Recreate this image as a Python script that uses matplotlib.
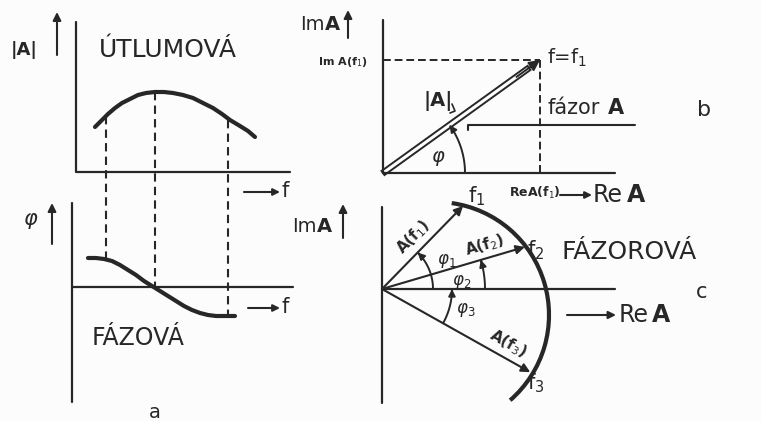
import numpy as np
import matplotlib.pyplot as plt
from matplotlib.patches import FancyArrow, FancyArrowPatch, Arc
from matplotlib.path import Path

INK = '#272727'
W, H = 761, 421

# a) amplitude (útlumová) characteristic, page units (y grows downward)
mag_x = [95, 101, 108, 115, 122, 130, 138, 146, 155, 164, 173, 183, 193, 203, 213, 222, 230, 240, 248, 255]
mag_y = [127, 121, 114, 108, 103, 99, 95, 93, 92, 92, 93, 95, 98, 103, 108, 114, 120, 126, 131, 137]
# a) phase characteristic
ph_x = [88, 96, 104, 112, 120, 128, 136, 144, 152, 160, 168, 176, 184, 192, 200, 208, 216, 235]
ph_y = [258, 258, 259, 261, 265, 270, 275, 281, 286, 291, 296, 301, 306, 310, 313, 315, 316, 316]
# frequencies f1, f2, f3 marked on both curves
f_x = [106, 155, 228]
f_top = [116, 92, 120]
f_bottom = [259, 288, 316]

# b) one phasor at f = f1
b_origin = (383, 173)
b_tip = (540, 60)

# c) phasors at f1, f2, f3 (angle in degrees, length)
c_origin = (382, 289)
c_phi = [45.7, 16.4, -29.3]
c_len = [116, 149, 170]
c_arc_r = [51, 103, 70]
c_names = ['A(f$_1$)', 'A(f$_2$)', 'A(f$_3$)']
c_name_xy = [(413, 237), (485, 245), (508, 344)]
# locus of the phasor tip
locus_c = (436, 315)
locus_r = 113
locus_span = (-49, 82)

fig = plt.figure(figsize=(W / 100, H / 100), dpi=100, facecolor='#fcfcfc')
ax = fig.add_axes([0, 0, 1, 1])
ax.set_xlim(0, W)
ax.set_ylim(H, 0)
ax.axis('off')


def line(xs, ys, lw=1.6, **kw):
    ax.plot(xs, ys, color=INK, lw=lw, solid_capstyle='round', solid_joinstyle='round', **kw)


def arrow(x0, y0, x1, y1, lw=1.5, ms=12):
    ax.annotate('', xy=(x1, y1), xytext=(x0, y0),
                arrowprops=dict(arrowstyle='-|>', color=INK, lw=lw,
                                mutation_scale=ms, shrinkA=0, shrinkB=0))


def txt(x, y, s, size=14, **kw):
    kw.setdefault('ha', 'left')
    kw.setdefault('va', 'center')
    ax.text(x, y, s, fontsize=size, color=INK, family='DejaVu Sans', **kw)


def angle_arc(origin, r, a0, a1):
    t = np.radians(np.linspace(a0, a1, 40))
    pts = np.column_stack([origin[0] + r * np.cos(t), origin[1] - r * np.sin(t)])
    ax.add_patch(FancyArrowPatch(path=Path(pts), arrowstyle='-|>',
                                 mutation_scale=10, color=INK, lw=1.4))


# ---- a) upper: amplitude ----
line([76, 76, 290], [22, 172, 172])
line(mag_x, mag_y, lw=3)
arrow(57, 55, 57, 12)
txt(11, 50, '|A|', 13, weight='bold')
txt(99, 50, 'ÚTLUMOVÁ', 18)
arrow(244, 192, 280, 192, ms=10)
txt(282, 191, 'f', 15)

# ---- a) lower: phase ----
line([72, 72], [203, 402])
line([72, 293], [287, 287])
line(ph_x, ph_y, lw=3)
arrow(52, 244, 52, 203)
txt(24, 219, 'φ', 15, style='italic')
arrow(248, 308, 280, 308, ms=10)
txt(282, 307, 'f', 15)
txt(92, 338, 'FÁZOVÁ', 17)
txt(155, 412, 'a', 14, ha='center')

for x, y0, y1 in zip(f_x, f_top, f_bottom):
    ax.plot([x, x], [y0, y1], color=INK, lw=1.5, ls=(0, (4, 2.5)))

# ---- b) single phasor ----
line([b_origin[0], b_origin[0]], [20, b_origin[1]])
line([b_origin[0], 615], [b_origin[1], b_origin[1]])
ax.plot([b_origin[0], b_tip[0]], [b_tip[1], b_tip[1]], color=INK, lw=1.4, ls=(0, (4, 2)))
ax.plot([b_tip[0], b_tip[0]], [b_tip[1], b_origin[1]], color=INK, lw=1.4, ls=(0, (4, 2)))
dx, dy = b_tip[0] - b_origin[0], b_tip[1] - b_origin[1]
ax.add_patch(FancyArrow(b_origin[0], b_origin[1], dx * 0.93, dy * 0.93,
                        width=5, head_width=0.01, head_length=0.01,
                        fc='white', ec=INK, lw=1.4))
arrow(b_origin[0] + dx * 0.85, b_origin[1] + dy * 0.85, b_tip[0], b_tip[1], lw=1.4, ms=16)
b_phi = np.degrees(np.arctan2(-dy, dx))
angle_arc(b_origin, 82, 0, b_phi)
arrow(348, 38, 348, 10)
ax.text(300, 25, 'Im', fontsize=14, color=INK, va='center', ha='left')
ax.text(325, 25, 'A', fontsize=14, color=INK, va='center', ha='left', weight='bold')
txt(318, 62, 'Im A(f$_1$)', 8, weight='bold')
txt(547, 58, 'f=f$_1$', 14)
txt(424, 101, '|A|', 14, weight='bold')
line([450, 455, 452], [113, 111, 104], lw=1.2)
txt(547, 108, 'fázor', 15)
ax.text(608, 108, 'A', fontsize=15, color=INK, va='center', weight='bold')
line([468, 468, 635], [130, 125, 125], lw=1.5)
txt(431, 156, 'φ', 14, style='italic')
txt(697, 110, 'b', 16)
txt(509, 193, 'ReA(f$_1$)', 9, weight='bold')
arrow(560, 195, 592, 195, ms=10)
txt(593, 195, 'Re', 17)
ax.text(627, 195, 'A', fontsize=17, color=INK, va='center', weight='bold')

# ---- c) locus of phasors ----
line([c_origin[0], c_origin[0]], [207, 403])
line([c_origin[0], 615], [c_origin[1], c_origin[1]])
ax.add_patch(Arc(locus_c, 2 * locus_r, 2 * locus_r, theta1=-locus_span[1],
                 theta2=-locus_span[0], color=INK, lw=3))
for phi, L in zip(c_phi, c_len):
    t = np.radians(phi)
    tip = (c_origin[0] + L * np.cos(t), c_origin[1] - L * np.sin(t))
    arrow(c_origin[0], c_origin[1], tip[0], tip[1], lw=1.5, ms=13)
for phi, r in zip(c_phi, c_arc_r):
    if phi > 0:
        angle_arc(c_origin, r, 0, phi)
    else:
        angle_arc(c_origin, r, phi, 0)

for phi, (x, y), s in zip(c_phi, c_name_xy, c_names):
    txt(x, y, s, 11, weight='bold', rotation=phi, rotation_mode='anchor', ha='center')

txt(437, 261, 'φ$_1$', 12, style='italic')
txt(452, 282, 'φ$_2$', 12, style='italic')
txt(456, 310, 'φ$_3$', 12, style='italic')
txt(468, 196, 'f$_1$', 15)
txt(527, 250, 'f$_2$', 15)
txt(527, 383, 'f$_3$', 15)
txt(562, 252, 'FÁZOROVÁ', 18)
txt(696, 292, 'c', 15)
arrow(343, 238, 343, 204)
ax.text(292, 227, 'Im', fontsize=14, color=INK, va='center')
ax.text(317, 227, 'A', fontsize=14, color=INK, va='center', weight='bold')
arrow(567, 315, 616, 315, ms=11)
txt(619, 315, 'Re', 17)
ax.text(652, 315, 'A', fontsize=17, color=INK, va='center', weight='bold')

fig.savefig('out.png', dpi=100, facecolor=fig.get_facecolor())
